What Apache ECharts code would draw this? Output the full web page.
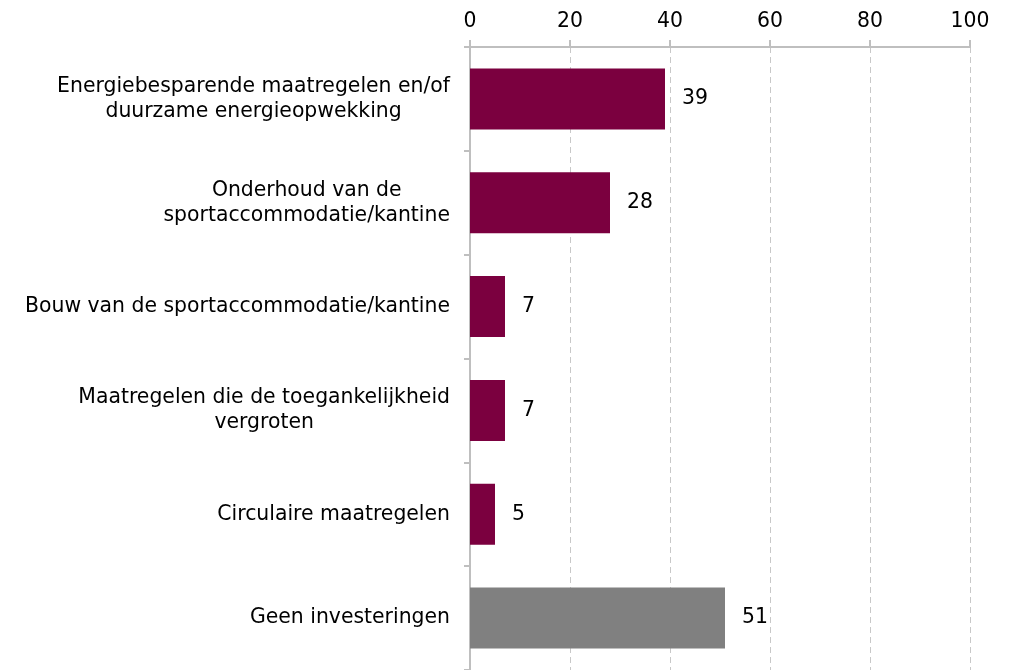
<!DOCTYPE html>
<html lang="nl">
  <head>
    <meta charset="utf-8" />
    <title>Investeringen</title>
    <script src="https://cdn.jsdelivr.net/npm/echarts@6/dist/echarts.min.js"></script>
    <style>
      html, body { margin: 0; padding: 0; background: #fff; }
      #main { width: 1009px; height: 670px; }
    </style>
  </head>
  <body>
    <div id="main"></div>
    <script>
      var categories = [
        "Energiebesparende maatregelen en/of\nduurzame energieopwekking",
        "Onderhoud van de\nsportaccommodatie/kantine",
        "Bouw van de sportaccommodatie/kantine",
        "Maatregelen die de toegankelijkheid\nvergroten",
        "Circulaire maatregelen",
        "Geen investeringen"
      ];
      var values = [39, 28, 7, 7, 5, 51];
      var barColors = ["#7b003f", "#7b003f", "#7b003f", "#7b003f", "#7b003f", "#808080"];
      var xTicks = [0, 20, 40, 60, 80, 100];

      var fontFam = "'DejaVu Sans', sans-serif";
      var fs = 20.4;
      var myChart = echarts.init(document.getElementById("main"));

      var option = {
        animation: false,
        grid: { left: 470, right: 39, top: 47, bottom: 0, containLabel: false },
        xAxis: {
          type: "value",
          position: "top",
          min: xTicks[0],
          max: xTicks[xTicks.length - 1],
          interval: 20,
          axisLine: { show: true, lineStyle: { color: "#bfbfbf", width: 2 } },
          axisTick: { show: true, length: 7, lineStyle: { color: "#bfbfbf", width: 2 } },
          axisLabel: { margin: 15, fontSize: fs, color: "#000", fontFamily: fontFam },
          splitLine: { show: true, lineStyle: { color: "#c8c8c8", type: [6, 4], width: 1 } }
        },
        yAxis: {
          type: "category",
          inverse: true,
          data: categories,
          axisLine: { show: true, lineStyle: { color: "#bfbfbf", width: 2 } },
          axisTick: { show: true, length: 6, lineStyle: { color: "#bfbfbf", width: 2 } },
          axisLabel: {
            margin: 20,
            color: "#000",
            fontSize: fs,
            fontFamily: fontFam,
            lineHeight: 25,
            formatter: function (v) {
              return v.split("\n").map(function (s) { return "{c|" + s + "}"; }).join("\n");
            },
            rich: { c: { align: "center", fontSize: fs, fontFamily: fontFam, lineHeight: 25, color: "#000" } }
          }
        },
        series: [
          {
            type: "bar",
            barWidth: 61,
            data: values.map(function (v, i) {
              return { value: v, itemStyle: { color: barColors[i] } };
            }),
            label: {
              show: true,
              position: "right",
              distance: 17,
              color: "#000",
              fontSize: fs,
              fontFamily: fontFam
            }
          }
        ]
      };

      myChart.setOption(option);
    </script>
  </body>
</html>
